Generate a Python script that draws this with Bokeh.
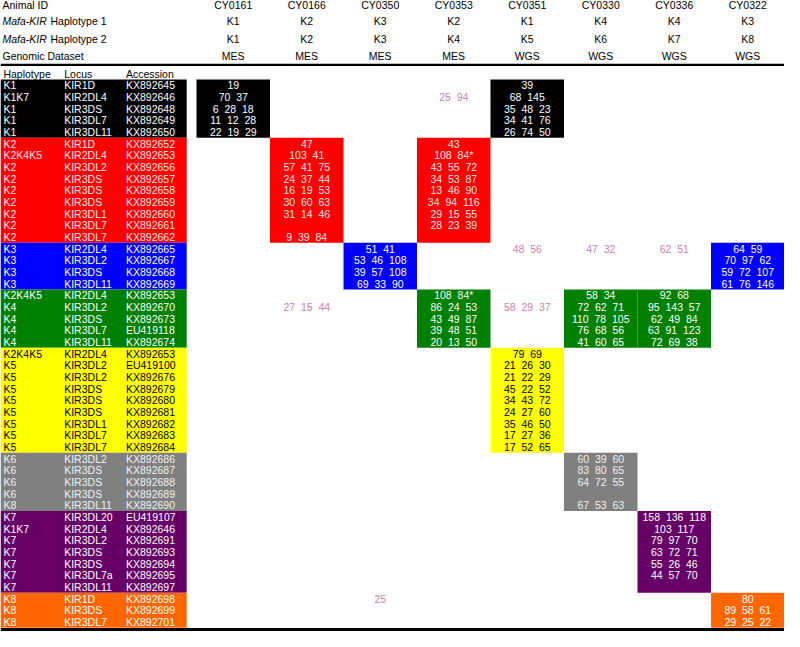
from bokeh.plotting import figure
from bokeh.models import ColumnDataSource, Range1d
from bokeh.core.properties import value
from bokeh.embed import file_html
from bokeh.resources import INLINE

# ---------------- data ----------------
animals = ["CY0161", "CY0166", "CY0350", "CY0353", "CY0351", "CY0330", "CY0336", "CY0322"]
haplotype1 = ["K1", "K2", "K3", "K2", "K1", "K4", "K4", "K3"]
haplotype2 = ["K1", "K2", "K3", "K4", "K5", "K6", "K7", "K8"]
dataset = ["MES", "MES", "MES", "MES", "WGS", "WGS", "WGS", "WGS"]

groups = ["K1", "K2", "K3", "K4", "K5", "K6", "K7", "K8"]
group_sizes = [5, 9, 4, 5, 9, 5, 7, 3]
group_fill = ["#000000", "#ff0000", "#0000ff", "#008000", "#ffff00", "#808080", "#660066", "#ff6600"]
group_text = ["#ffffff", "#ffe8e8", "#ffffff", "#ffffff", "#000000", "#f0f0f0", "#ffffff", "#ffffff"]

row_haplotype = ["K1", "K1K7", "K1", "K1", "K1",
                 "K2", "K2K4K5", "K2", "K2", "K2", "K2", "K2", "K2", "K2",
                 "K3", "K3", "K3", "K3",
                 "K2K4K5", "K4", "K4", "K4", "K4",
                 "K2K4K5", "K5", "K5", "K5", "K5", "K5", "K5", "K5", "K5",
                 "K6", "K6", "K6", "K6", "K8",
                 "K7", "K1K7", "K7", "K7", "K7", "K7", "K7",
                 "K8", "K8", "K8"]
row_locus = ["KIR1D", "KIR2DL4", "KIR3DS", "KIR3DL7", "KIR3DL11",
             "KIR1D", "KIR2DL4", "KIR3DL2", "KIR3DS", "KIR3DS", "KIR3DS", "KIR3DL1", "KIR3DL7", "KIR3DL7",
             "KIR2DL4", "KIR3DL2", "KIR3DS", "KIR3DL11",
             "KIR2DL4", "KIR3DL2", "KIR3DS", "KIR3DL7", "KIR3DL11",
             "KIR2DL4", "KIR3DL2", "KIR3DL2", "KIR3DS", "KIR3DS", "KIR3DS", "KIR3DL1", "KIR3DL7", "KIR3DL7",
             "KIR3DL2", "KIR3DS", "KIR3DS", "KIR3DS", "KIR3DL11",
             "KIR3DL20", "KIR2DL4", "KIR3DL2", "KIR3DS", "KIR3DS", "KIR3DL7a", "KIR3DL11",
             "KIR1D", "KIR3DS", "KIR3DL7"]
row_accession = ["KX892645", "KX892646", "KX892648", "KX892649", "KX892650",
                 "KX892652", "KX892653", "KX892656", "KX892657", "KX892658", "KX892659", "KX892660", "KX892661", "KX892662",
                 "KX892665", "KX892667", "KX892668", "KX892669",
                 "KX892653", "KX892670", "KX892673", "EU419118", "KX892674",
                 "KX892653", "EU419100", "KX892676", "KX892679", "KX892680", "KX892681", "KX892682", "KX892683", "KX892684",
                 "KX892686", "KX892687", "KX892688", "KX892689", "KX892690",
                 "EU419107", "KX892646", "KX892691", "KX892693", "KX892694", "KX892695", "KX892697",
                 "KX892698", "KX892699", "KX892701"]

# read counts per animal and haplotype block (one entry per row of the block)
cy0161_k1 = ["19", "70 37", "6 28 18", "11 12 28", "22 19 29"]
cy0166_k2 = ["47", "103 41", "57 41 75", "24 37 44", "16 19 53", "30 60 63", "31 14 46", "", "9 39 84"]
cy0350_k3 = ["51 41", "53 46 108", "39 57 108", "69 33 90"]
cy0353_k2 = ["43", "108 84*", "43 55 72", "34 53 87", "13 46 90", "34 94 116", "29 15 55", "28 23 39", ""]
cy0353_k4 = ["108 84*", "86 24 53", "43 49 87", "39 48 51", "20 13 50"]
cy0351_k1 = ["39", "68 145", "35 48 23", "34 41 76", "26 74 50"]
cy0351_k5 = ["79 69", "21 26 30", "21 22 29", "45 22 52", "34 43 72", "24 27 60", "35 46 50", "17 27 36", "17 52 65"]
cy0330_k4 = ["58 34", "72 62 71", "110 78 105", "76 68 56", "41 60 65"]
cy0330_k6 = ["60 39 60", "83 80 65", "64 72 55", "", "67 53 63"]
cy0336_k4 = ["92 68", "95 143 57", "62 49 84", "63 91 123", "72 69 38"]
cy0336_k7 = ["158 136 118", "103 117", "79 97 70", "63 72 71", "55 26 46", "44 57 70", ""]
cy0322_k3 = ["64 59", "70 97 62", "59 72 107", "61 76 146"]
cy0322_k8 = ["80", "89 58 61", "29 25 22"]

block_values = {
    ("CY0161", "K1"): cy0161_k1, ("CY0166", "K2"): cy0166_k2, ("CY0350", "K3"): cy0350_k3,
    ("CY0353", "K2"): cy0353_k2, ("CY0353", "K4"): cy0353_k4, ("CY0351", "K1"): cy0351_k1,
    ("CY0351", "K5"): cy0351_k5, ("CY0330", "K4"): cy0330_k4, ("CY0330", "K6"): cy0330_k6,
    ("CY0336", "K4"): cy0336_k4, ("CY0336", "K7"): cy0336_k7, ("CY0322", "K3"): cy0322_k3,
    ("CY0322", "K8"): cy0322_k8,
}

# counts outside the animal's own haplotypes (pink)
off_animal = ["CY0353", "CY0166", "CY0351", "CY0330", "CY0336", "CY0351", "CY0350"]
off_row = [1, 19, 14, 14, 14, 19, 44]
off_text = ["25 94", "27 15 44", "48 56", "47 32", "62 51", "58 29 37", "25"]

# ---------------- layout ----------------
W, H = 800, 647
ROW_Y0, ROW_H = 81.0, 11.96
COL_X0, COL_W = 200.0, 75.0
TABLE_R = 190.0
FONT = value("Liberation Sans")
FS = value("10.5px")


def fmt(s):
    return s.replace(" ", "\u00a0\u00a0")


group_start = {}
acc_i = 0
for g, n in zip(groups, group_sizes):
    group_start[g] = acc_i
    acc_i += n

p = figure(width=784, height=631, output_backend="svg", toolbar_location=None,
           x_range=Range1d(0, W), y_range=Range1d(H, 0), min_border=0)
p.axis.visible = False
p.grid.visible = False
p.outline_line_color = None
p.background_fill_color = "white"

# left table colored rows
lq = dict(left=[], right=[], top=[], bottom=[], color=[])
for g, n, c in zip(groups, group_sizes, group_fill):
    s = group_start[g]
    lq["left"].append(0)
    lq["right"].append(TABLE_R)
    lq["top"].append(ROW_Y0 + s * ROW_H)
    lq["bottom"].append(ROW_Y0 + (s + n) * ROW_H)
    lq["color"].append(c)
p.quad(source=ColumnDataSource(lq), left="left", right="right", top="top", bottom="bottom",
       fill_color="color", line_color=None)

# left table texts
lt = dict(x=[], y=[], t=[], c=[])
row_color = []
for g, n, tc in zip(groups, group_sizes, group_text):
    row_color += [tc] * n
for i in range(len(row_locus)):
    yc = ROW_Y0 + (i + 0.5) * ROW_H
    for xx, txt in ((3, row_haplotype[i]), (65, row_locus[i]), (128, row_accession[i])):
        lt["x"].append(xx); lt["y"].append(yc); lt["t"].append(txt); lt["c"].append(row_color[i])
p.text(source=ColumnDataSource(lt), x="x", y="y", text="t", text_color="c", text_font=FONT,
       text_font_size=FS, text_baseline="middle", text_align="left")

# animal blocks
bq = dict(left=[], right=[], top=[], bottom=[], color=[])
bt = dict(x=[], y=[], t=[], c=[])
for j, a in enumerate(animals):
    seen = []
    for g in (haplotype1[j], haplotype2[j]):
        if g in seen:
            continue
        seen.append(g)
        gi = groups.index(g)
        s, n = group_start[g], group_sizes[gi]
        bq["left"].append(COL_X0 + j * COL_W)
        bq["right"].append(COL_X0 + (j + 1) * COL_W)
        bq["top"].append(ROW_Y0 + s * ROW_H)
        bq["bottom"].append(ROW_Y0 + (s + n) * ROW_H)
        bq["color"].append(group_fill[gi])
        for k, v in enumerate(block_values[(a, g)]):
            if v:
                bt["x"].append(COL_X0 + (j + 0.5) * COL_W)
                bt["y"].append(ROW_Y0 + (s + k + 0.5) * ROW_H)
                bt["t"].append(fmt(v))
                bt["c"].append(group_text[gi])
p.quad(source=ColumnDataSource(bq), left="left", right="right", top="top", bottom="bottom",
       fill_color="color", line_color=None)
p.text(source=ColumnDataSource(bt), x="x", y="y", text="t", text_color="c", text_font=FONT,
       text_font_size=FS, text_baseline="middle", text_align="center")

# off-haplotype (pink) values
ot = dict(x=[COL_X0 + (animals.index(a) + 0.5) * COL_W for a in off_animal],
          y=[ROW_Y0 + (r + 0.5) * ROW_H for r in off_row],
          t=[fmt(s) for s in off_text])
p.text(source=ColumnDataSource(ot), x="x", y="y", text="t", text_color="#cc80b0", text_font=FONT,
       text_font_size=FS, text_baseline="middle", text_align="center")

# header
hy = [5, 21, 39, 57]
hdr = dict(x=[], y=[], t=[])
for j in range(len(animals)):
    xc = COL_X0 + (j + 0.5) * COL_W
    for yy, lab in zip(hy, (animals[j], haplotype1[j], haplotype2[j], dataset[j])):
        hdr["x"].append(xc); hdr["y"].append(yy); hdr["t"].append(lab)
p.text(source=ColumnDataSource(hdr), x="x", y="y", text="t", text_color="black", text_font=FONT,
       text_font_size=FS, text_baseline="middle", text_align="center")

p.text(x=[2, 2], y=[hy[0], hy[3]], text=["Animal ID", "Genomic Dataset"], text_color="black",
       text_font=FONT, text_font_size=FS, text_baseline="middle", text_align="left")
p.text(x=[2, 2], y=[hy[1], hy[2]], text=["Mafa-KIR", "Mafa-KIR"], text_color="black",
       text_font=FONT, text_font_size=FS, text_font_style="italic", text_baseline="middle", text_align="left")
p.text(x=[51, 51], y=[hy[1], hy[2]], text=["Haplotype 1", "Haplotype 2"], text_color="black",
       text_font=FONT, text_font_size=FS, text_baseline="middle", text_align="left")
p.text(x=[3, 65, 128], y=[75, 75, 75], text=["Haplotype", "Locus", "Accession"], text_color="black",
       text_font=FONT, text_font_size=FS, text_baseline="middle", text_align="left")

# rules
p.segment(x0=[0, 0], x1=[W, W], y0=[66, 645], y1=[66, 645], line_color="black", line_width=[2.2, 3])

open("out.html", "w").write(file_html(p, INLINE))
